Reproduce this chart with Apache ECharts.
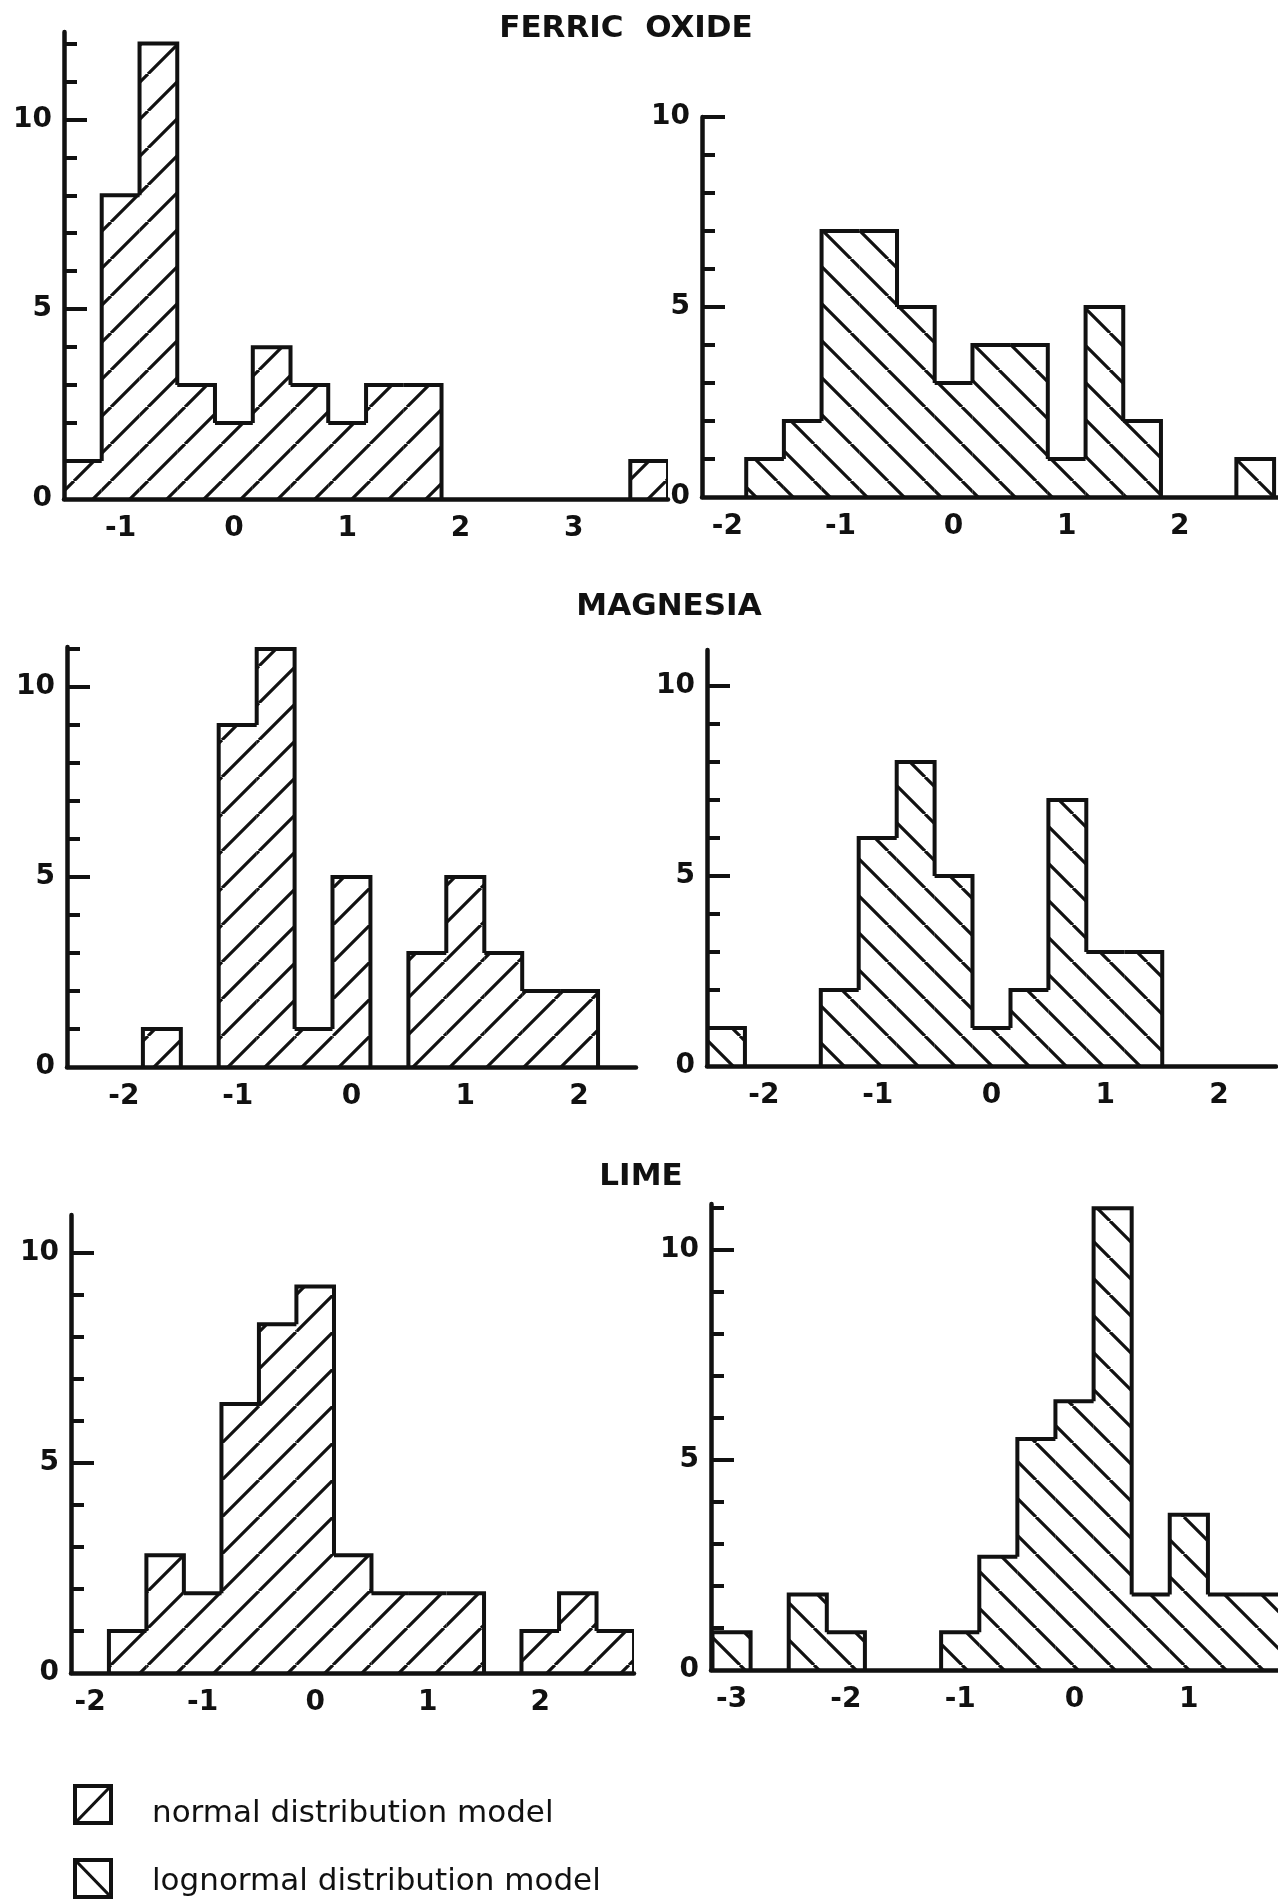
<!DOCTYPE html>
<html>
<head>
<meta charset="utf-8">
<title>Ferric oxide, magnesia and lime histograms</title>
<script src="https://cdn.jsdelivr.net/npm/echarts@6.0.0/dist/echarts.min.js"></script>
<style>
  html, body { margin: 0; padding: 0; background: #ffffff; }
  #chart { width: 1278px; height: 1900px; }
</style>
</head>
<body>
<div id="chart"></div>
<script>
// Every histogram uses bins one third of a unit wide; the *Starts lists hold the
// left edge of each drawn bin, the *Counts lists the bar height of that bin.
const BIN_WIDTH = 1 / 3;

// Ferric oxide
const ferricNormalStarts = [-1.5, -1.167, -0.833, -0.5, -0.167, 0.167, 0.5, 0.833, 1.167, 1.5, 3.5];
const ferricNormalCounts = [1, 8, 12, 3, 2, 4, 3, 2, 3, 3, 1];
const ferricLogStarts = [-1.833, -1.5, -1.167, -0.833, -0.5, -0.167, 0.167, 0.5, 0.833, 1.167, 1.5, 2.5];
const ferricLogCounts = [1, 2, 7, 7, 5, 3, 4, 4, 1, 5, 2, 1];

// Magnesia
const magnesiaNormalStarts = [-1.833, -1.167, -0.833, -0.5, -0.167, 0.5, 0.833, 1.167, 1.5, 1.833];
const magnesiaNormalCounts = [1, 9, 11, 1, 5, 3, 5, 3, 2, 2];
const magnesiaLogStarts = [-2.5, -1.5, -1.167, -0.833, -0.5, -0.167, 0.167, 0.5, 0.833, 1.167];
const magnesiaLogCounts = [1, 2, 6, 8, 5, 1, 2, 7, 3, 3];

// Lime
const limeNormalStarts = [-1.833, -1.5, -1.167, -0.833, -0.5, -0.167, 0.167, 0.5, 0.833, 1.167, 1.833, 2.167, 2.5];
const limeNormalCounts = [1.0, 2.8, 1.9, 6.4, 8.3, 9.2, 2.8, 1.9, 1.9, 1.9, 1.0, 1.9, 1.0];
const limeLogStarts = [-3.167, -2.5, -2.167, -1.167, -0.833, -0.5, -0.167, 0.167, 0.5, 0.833, 1.167, 1.5];
const limeLogCounts = [0.9, 1.8, 0.9, 0.9, 2.7, 5.5, 6.4, 11.0, 1.8, 3.7, 1.8, 1.8];

// Tick labels
const yLabelValues = [0, 5, 10];
const yMajorTicks = [5, 10];
const ferricNormalXLabels = [-1, 0, 1, 2, 3];
const ferricLogXLabels = [-2, -1, 0, 1, 2];
const magnesiaNormalXLabels = [-2, -1, 0, 1, 2];
const magnesiaLogXLabels = [-2, -1, 0, 1, 2];
const limeNormalXLabels = [-2, -1, 0, 1, 2];
const limeLogXLabels = [-3, -2, -1, 0, 1];

// Headings and key
const titles = ['FERRIC  OXIDE', 'MAGNESIA', 'LIME'];
const legendLabels = ['normal distribution model', 'lognormal distribution model'];

const INK = '#111111';
const FONT = '"DejaVu Sans", sans-serif';

// Repeating hatch tile: '/' strokes for the normal model, '\' for the lognormal one.
function hatchTile(forward) {
  const w = 37, h = 37;
  const c = document.createElement('canvas');
  c.width = w; c.height = h;
  const g = c.getContext('2d');
  g.strokeStyle = INK;
  g.lineWidth = 3.2;
  g.beginPath();
  for (const dx of [-w, 0, w]) {
    if (forward) { g.moveTo(dx, h); g.lineTo(dx + w, 0); }
    else { g.moveTo(dx, 0); g.lineTo(dx + w, h); }
  }
  g.stroke();
  return { image: c, repeat: 'repeat' };
}
const hatchNormal = hatchTile(true);
const hatchLog = hatchTile(false);

// Turn bin starts/heights into [x0, x1, height, leftNeighbour, rightNeighbour].
function binItems(starts, counts) {
  return starts.map((s, i) => {
    let e = s + BIN_WIDTH;
    let left = 0, right = 0;
    if (i > 0 && Math.abs(starts[i - 1] + BIN_WIDTH - s) < 0.01) left = counts[i - 1];
    if (i < starts.length - 1 && Math.abs(starts[i + 1] - e) < 0.01) {
      right = counts[i + 1];
      e = starts[i + 1];
    }
    return [s, e, counts[i], left, right];
  });
}

// Each bin: a hatched block plus the part of the step outline it owns.
function makeRenderer(fill) {
  return function (params, api) {
    const x0 = api.value(0), x1 = api.value(1), h = api.value(2);
    const hl = api.value(3), hr = api.value(4);
    const tl = api.coord([x0, h]);
    const tr = api.coord([x1, h]);
    const br = api.coord([x1, 0]);
    const lb = api.coord([x0, Math.min(hl, h)]);
    const rb = api.coord([x1, Math.min(hr, h)]);
    return {
      type: 'group',
      children: [
        {
          type: 'rect',
          shape: { x: tl[0], y: tl[1], width: br[0] - tl[0], height: br[1] - tl[1] },
          style: { fill: fill, stroke: null }
        },
        {
          type: 'polyline',
          shape: { points: [lb, tl, tr, rb] },
          style: { fill: null, stroke: INK, lineWidth: 4, lineJoin: 'miter' }
        }
      ]
    };
  };
}

const panels = [
  { starts: ferricNormalStarts, counts: ferricNormalCounts, xLabels: ferricNormalXLabels, fill: hatchNormal,
    xMin: -1.5, xMax: 3.833, yMax: 12.3, left: 64, top: 32, width: 604, height: 467 },
  { starts: ferricLogStarts, counts: ferricLogCounts, xLabels: ferricLogXLabels, fill: hatchLog,
    xMin: -2.224, xMax: 2.868, yMax: 10, left: 702, top: 117, width: 576, height: 380 },
  { starts: magnesiaNormalStarts, counts: magnesiaNormalCounts, xLabels: magnesiaNormalXLabels, fill: hatchNormal,
    xMin: -2.5, xMax: 2.5, yMax: 11.05, left: 67, top: 647, width: 569, height: 420 },
  { starts: magnesiaLogStarts, counts: magnesiaLogCounts, xLabels: magnesiaLogXLabels, fill: hatchLog,
    xMin: -2.5, xMax: 2.5, yMax: 10.95, left: 707, top: 650, width: 569, height: 416 },
  { starts: limeNormalStarts, counts: limeNormalCounts, xLabels: limeNormalXLabels, fill: hatchNormal,
    xMin: -2.17, xMax: 2.833, yMax: 10.9, left: 71, top: 1215, width: 563, height: 458 },
  { starts: limeLogStarts, counts: limeLogCounts, xLabels: limeLogXLabels, fill: hatchLog,
    xMin: -3.18, xMax: 1.78, yMax: 11.1, left: 711, top: 1204, width: 567, height: 466 }
];

const axisLineStyle = { color: INK, width: 4.5, cap: 'round' };
const labelStyle = { color: INK, fontFamily: FONT, fontSize: 28, fontWeight: 'bold' };

const grid = [], xAxis = [], yAxis = [], series = [];
panels.forEach((p, i) => {
  grid.push({ left: p.left, top: p.top, width: p.width, height: p.height });

  xAxis.push({
    type: 'value', gridIndex: i, min: p.xMin, max: p.xMax,
    axisLine: { show: true, onZero: false, lineStyle: axisLineStyle },
    axisTick: { show: false },
    splitLine: { show: false },
    axisLabel: Object.assign({ customValues: p.xLabels, margin: 16 }, labelStyle)
  });

  const unitTicks = [];
  for (let v = 1; v <= Math.floor(p.yMax); v++) unitTicks.push(v);

  // unit ticks, axis line and labels
  yAxis.push({
    type: 'value', gridIndex: i, position: 'left', min: 0, max: p.yMax,
    axisLine: { show: true, onZero: false, lineStyle: axisLineStyle },
    axisTick: { show: true, inside: true, length: 13, customValues: unitTicks,
      lineStyle: { color: INK, width: 4 } },
    splitLine: { show: false },
    axisLabel: Object.assign({ customValues: yLabelValues, margin: 12 }, labelStyle)
  });
  // longer ticks at 5 and 10
  yAxis.push({
    type: 'value', gridIndex: i, position: 'left', min: 0, max: p.yMax,
    axisLine: { show: false, onZero: false },
    axisTick: { show: true, inside: true, length: 23, customValues: yMajorTicks,
      lineStyle: { color: INK, width: 4 } },
    splitLine: { show: false },
    axisLabel: { show: false }
  });

  series.push({
    type: 'custom',
    xAxisIndex: i,
    yAxisIndex: 2 * i,
    data: binItems(p.starts, p.counts),
    encode: { x: [0, 1], y: 2 },
    renderItem: makeRenderer(p.fill),
    clip: true,
    silent: true,
    z: 1
  });
});

function textEl(text, x, y, size, align, weight) {
  return {
    type: 'text', x: x, y: y, silent: true,
    style: {
      text: text, fill: INK, fontFamily: FONT, fontSize: size, fontWeight: weight,
      align: align, textAlign: align, verticalAlign: 'middle', textVerticalAlign: 'middle'
    }
  };
}

const graphic = [
  textEl(titles[0], 626, 29, 31, 'center', 'bold'),
  textEl(titles[1], 669, 607, 31, 'center', 'bold'),
  textEl(titles[2], 641, 1177, 31, 'center', 'bold'),
  // key boxes
  { type: 'rect', silent: true, shape: { x: 75, y: 1786, width: 36, height: 37 },
    style: { fill: 'none', stroke: INK, lineWidth: 4 } },
  { type: 'line', silent: true, shape: { x1: 77, y1: 1821, x2: 109, y2: 1788 },
    style: { stroke: INK, lineWidth: 3.2 } },
  { type: 'rect', silent: true, shape: { x: 75, y: 1860, width: 36, height: 37 },
    style: { fill: 'none', stroke: INK, lineWidth: 4 } },
  { type: 'line', silent: true, shape: { x1: 77, y1: 1862, x2: 109, y2: 1895 },
    style: { stroke: INK, lineWidth: 3.2 } },
  textEl(legendLabels[0], 152, 1814, 31, 'left', 'normal'),
  textEl(legendLabels[1], 152, 1882, 31, 'left', 'normal')
];

const chart = echarts.init(document.getElementById('chart'), null, { renderer: 'canvas' });
chart.setOption({
  backgroundColor: '#ffffff',
  animation: false,
  grid: grid,
  xAxis: xAxis,
  yAxis: yAxis,
  series: series,
  graphic: graphic
});
</script>
</body>
</html>
